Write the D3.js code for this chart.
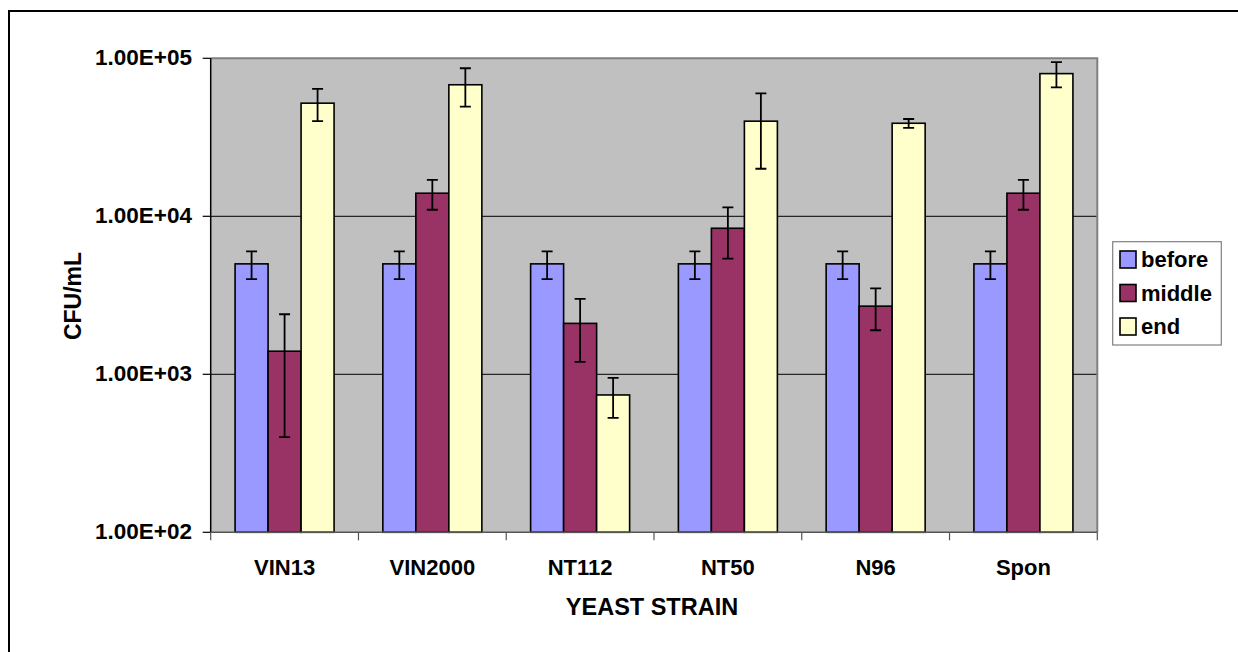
<!DOCTYPE html>
<html>
<head>
<meta charset="utf-8">
<script src="https://cdn.jsdelivr.net/npm/d3@7"></script>
<style>
  html, body { margin: 0; padding: 0; background: #fff; }
  svg { display: block; }
  text { font-family: Arial, "Liberation Sans", sans-serif; font-weight: bold; fill: #000; }
</style>
</head>
<body>
<svg id="chart" width="1238" height="652"></svg>
<script>
const categories = ["VIN13", "VIN2000", "NT112", "NT50", "N96", "Spon"];
const seriesNames = ["before", "middle", "end"];
const beforeValues = [5000, 5000, 5000, 5000, 5000, 5000];
const beforeErrors = [1000, 1000, 1000, 1000, 1000, 1000];
const middleValues = [1400, 14000, 2100, 8400, 2700, 14000];
const middleErrors = [1000, 3000, 900, 3000, 800, 3000];
const endValues = [52000, 68000, 740, 40000, 38800, 80000];
const endErrors = [12000, 18500, 210, 20000, 2500, 14500];
const yTickValues = [100, 1000, 10000, 100000];
const yTickLabels = ["1.00E+02", "1.00E+03", "1.00E+04", "1.00E+05"];
const colors = ["#9999FF", "#993366", "#FFFFCC"];

const valuesBySeries = [beforeValues, middleValues, endValues];
const errorsBySeries = [beforeErrors, middleErrors, endErrors];

const svg = d3.select("#chart");

// outer frame
svg.append("rect").attr("x", 9).attr("y", 11).attr("width", 1240).attr("height", 660)
  .attr("fill", "#fff").attr("stroke", "#000").attr("stroke-width", 2);

const L = 210.7, R = 1097.3, T = 58.3, B = 532.3;

const x0 = d3.scaleBand().domain(categories).range([L, R]).paddingInner(0.33).paddingOuter(0.165);
const x1 = d3.scaleBand().domain(seriesNames).range([0, x0.bandwidth()]);
const y = d3.scaleLog().domain([100, 100000]).range([B, T]);

// plot background
svg.append("rect").attr("x", L).attr("y", T).attr("width", R - L).attr("height", B - T)
  .attr("fill", "#C0C0C0");

// gridlines
svg.append("g").selectAll("line").data(yTickValues.slice(1, 3)).join("line")
  .attr("x1", L).attr("x2", R).attr("y1", d => y(d)).attr("y2", d => y(d))
  .attr("stroke", "#000").attr("stroke-width", 1);

// plot border top/right gray
svg.append("path").attr("d", `M${L},${T}H${R}V${B}`).attr("fill", "none")
  .attr("stroke", "#808080").attr("stroke-width", 2);

// bars
const table = categories.map((c, i) => ({
  cat: c,
  items: seriesNames.map((s, j) => ({ s, j, v: valuesBySeries[j][i], e: errorsBySeries[j][i] }))
}));

const groups = svg.append("g").selectAll("g").data(table).join("g")
  .attr("transform", d => `translate(${x0(d.cat)},0)`);

groups.selectAll("rect").data(d => d.items).join("rect")
  .attr("x", d => x1(d.s)).attr("width", x1.bandwidth())
  .attr("y", d => y(d.v)).attr("height", d => B - y(d.v))
  .attr("fill", d => colors[d.j]).attr("stroke", "#000").attr("stroke-width", 1.6);

// error bars
const cap = 5.5;
groups.selectAll("path.err").data(d => d.items).join("path").attr("class", "err")
  .attr("d", d => {
    const cx = x1(d.s) + x1.bandwidth() / 2;
    const yt = y(d.v + d.e), yb = y(d.v - d.e);
    return `M${cx},${yt}V${yb}M${cx - cap},${yt}H${cx + cap}M${cx - cap},${yb}H${cx + cap}`;
  })
  .attr("fill", "none").attr("stroke", "#000").attr("stroke-width", 1.8);

// y axis
const yAxis = svg.append("g");
yAxis.append("line").attr("x1", L).attr("x2", L).attr("y1", T).attr("y2", B)
  .attr("stroke", "#000").attr("stroke-width", 1.5);
yAxis.selectAll("line.tick").data(yTickValues).join("line").attr("class", "tick")
  .attr("x1", L - 8).attr("x2", L).attr("y1", d => y(d)).attr("y2", d => y(d))
  .attr("stroke", "#000").attr("stroke-width", 1.2);
yAxis.selectAll("text").data(yTickValues).join("text")
  .attr("x", 192).attr("y", d => y(d) + 6.5)
  .attr("text-anchor", "end").attr("font-size", 22.5)
  .text((d, i) => yTickLabels[i]);

// x axis
const xAxis = svg.append("g");
xAxis.append("line").attr("x1", L).attr("x2", R).attr("y1", B).attr("y2", B)
  .attr("stroke", "#555").attr("stroke-width", 1.5);
const step = x0.step();
const boundaries = d3.range(categories.length + 1).map(i => L + i * step);
xAxis.selectAll("line.tick").data(boundaries).join("line").attr("class", "tick")
  .attr("x1", d => d).attr("x2", d => d).attr("y1", B).attr("y2", B + 8)
  .attr("stroke", "#555").attr("stroke-width", 1.2);
xAxis.selectAll("text").data(categories).join("text")
  .attr("x", d => x0(d) + x0.bandwidth() / 2).attr("y", 575)
  .attr("text-anchor", "middle").attr("font-size", 22)
  .text(d => d);

// axis titles
svg.append("text").attr("x", 652).attr("y", 615).attr("text-anchor", "middle")
  .attr("font-size", 23.5).text("YEAST STRAIN");
svg.append("text").attr("transform", "translate(81,296) rotate(-90)")
  .attr("text-anchor", "middle").attr("font-size", 23).text("CFU/mL");

// legend
const lg = svg.append("g");
lg.append("rect").attr("x", 1112.7).attr("y", 241.7).attr("width", 108.6).attr("height", 103.3)
  .attr("fill", "#fff").attr("stroke", "#808080").attr("stroke-width", 1.2);
const items = lg.selectAll("g").data(seriesNames).join("g")
  .attr("transform", (d, i) => `translate(1120,${251 + i * 33.5})`);
items.append("rect").attr("x", 0).attr("y", 0).attr("width", 16).attr("height", 17)
  .attr("fill", (d, i) => colors[i]).attr("stroke", "#000").attr("stroke-width", 1.6);
items.append("text").attr("x", 21).attr("y", 16).attr("font-size", 22).text(d => d);
</script>
</body>
</html>
